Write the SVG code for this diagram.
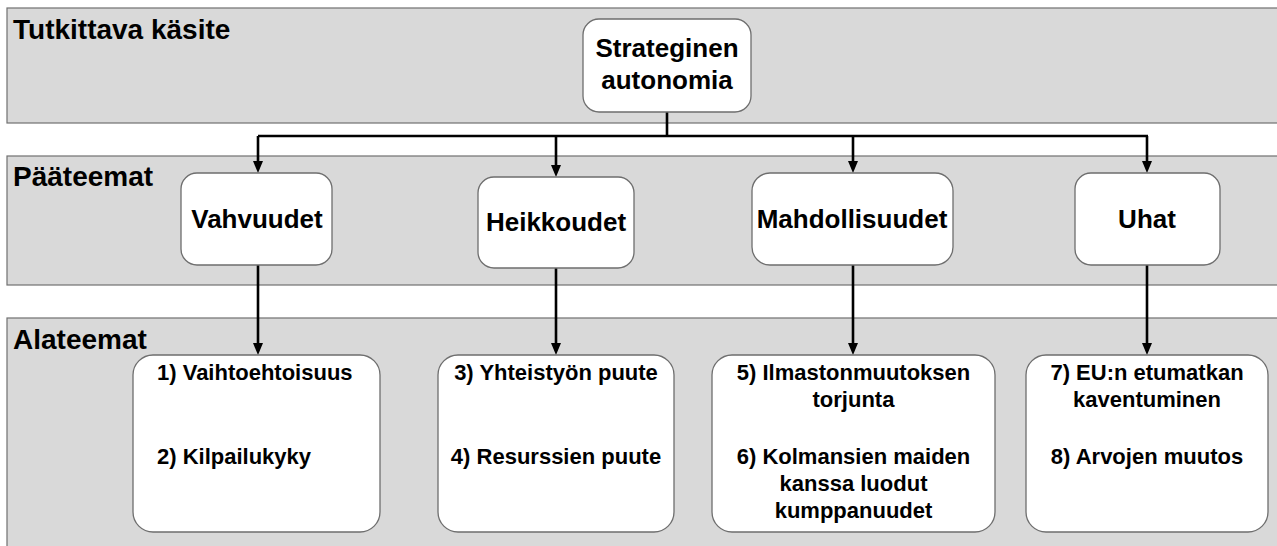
<svg xmlns="http://www.w3.org/2000/svg" width="1277" height="546" viewBox="0 0 1277 546">
<style>
.band{fill:#d9d9d9;stroke:#707070;stroke-width:1.2}
.box{fill:#ffffff;stroke:#6e6e6e;stroke-width:1.3}
text{font-family:"Liberation Sans",Arial,sans-serif;font-weight:bold;fill:#000}
.h{font-size:28px}
.m{font-size:26px;text-anchor:middle}
.s{font-size:22px;text-anchor:middle}
.sl{font-size:22px;text-anchor:start}
.c{fill:none;stroke:#000;stroke-width:2.6}
.ca{fill:none;stroke:#000;stroke-width:2.6;marker-end:url(#ah)}
</style>
<defs>
<marker id="ah" markerUnits="userSpaceOnUse" markerWidth="12" markerHeight="12" viewBox="0 0 12 12" refX="5" refY="6" orient="auto">
<path d="M0,1 L12,6 L0,11 Z" fill="#000"/>
</marker>
</defs>
<rect width="1277" height="546" fill="#ffffff"/>
<g id="band-tutkittava">
<rect class="band" x="7" y="8" width="1290" height="115"/>
<text class="h" x="13" y="39">Tutkittava käsite</text>
</g>
<g id="band-paateemat">
<rect class="band" x="7" y="156" width="1290" height="129"/>
<text class="h" x="13" y="186">Pääteemat</text>
</g>
<g id="band-alateemat">
<rect class="band" x="7" y="318" width="1290" height="250"/>
<text class="h" x="13" y="349">Alateemat</text>
</g>
<g id="connectors">
<path class="c" d="M667,112 V136 M258,136 H1148"/>
<path class="ca" d="M258,136 V166"/>
<path class="ca" d="M556,136 V170"/>
<path class="ca" d="M853,136 V166"/>
<path class="ca" d="M1147,136 V166"/>
<path class="ca" d="M258,265 V348"/>
<path class="ca" d="M556,268 V348"/>
<path class="ca" d="M853,265 V348"/>
<path class="ca" d="M1147,265 V348"/>
</g>
<g id="node-strateginen">
<rect class="box" x="583" y="19" width="168" height="93" rx="16"/>
<text class="m" x="667" y="57">Strateginen</text>
<text class="m" x="667" y="89">autonomia</text>
</g>
<g id="node-vahvuudet">
<rect class="box" x="181" y="173" width="151" height="92" rx="16"/>
<text class="m" x="257" y="228">Vahvuudet</text>
</g>
<g id="node-heikkoudet">
<rect class="box" x="478" y="177" width="156" height="91" rx="16"/>
<text class="m" x="556" y="231">Heikkoudet</text>
</g>
<g id="node-mahdollisuudet">
<rect class="box" x="752" y="173" width="201" height="92" rx="18"/>
<text class="m" x="852" y="228">Mahdollisuudet</text>
</g>
<g id="node-uhat">
<rect class="box" x="1075" y="173" width="145" height="92" rx="16"/>
<text class="m" x="1147" y="228">Uhat</text>
</g>
<g id="node-sub-vahvuudet">
<rect class="box" x="133" y="355" width="247" height="177" rx="20"/>
<text class="sl" x="157" y="380">1) Vaihtoehtoisuus</text>
<text class="sl" x="157" y="464">2) Kilpailukyky</text>
</g>
<g id="node-sub-heikkoudet">
<rect class="box" x="438" y="355" width="236" height="177" rx="20"/>
<text class="s" x="556" y="380">3) Yhteistyön puute</text>
<text class="s" x="556" y="464">4) Resurssien puute</text>
</g>
<g id="node-sub-mahdollisuudet">
<rect class="box" x="712" y="355" width="283" height="177" rx="20"/>
<text class="s" x="853.5" y="380">5) Ilmastonmuutoksen</text>
<text class="s" x="853.5" y="407">torjunta</text>
<text class="s" x="853.5" y="464">6) Kolmansien maiden</text>
<text class="s" x="853.5" y="491">kanssa luodut</text>
<text class="s" x="853.5" y="518">kumppanuudet</text>
</g>
<g id="node-sub-uhat">
<rect class="box" x="1026" y="355" width="242" height="177" rx="20"/>
<text class="s" x="1147" y="380">7) EU:n etumatkan</text>
<text class="s" x="1147" y="407">kaventuminen</text>
<text class="s" x="1147" y="464">8) Arvojen muutos</text>
</g>
</svg>
